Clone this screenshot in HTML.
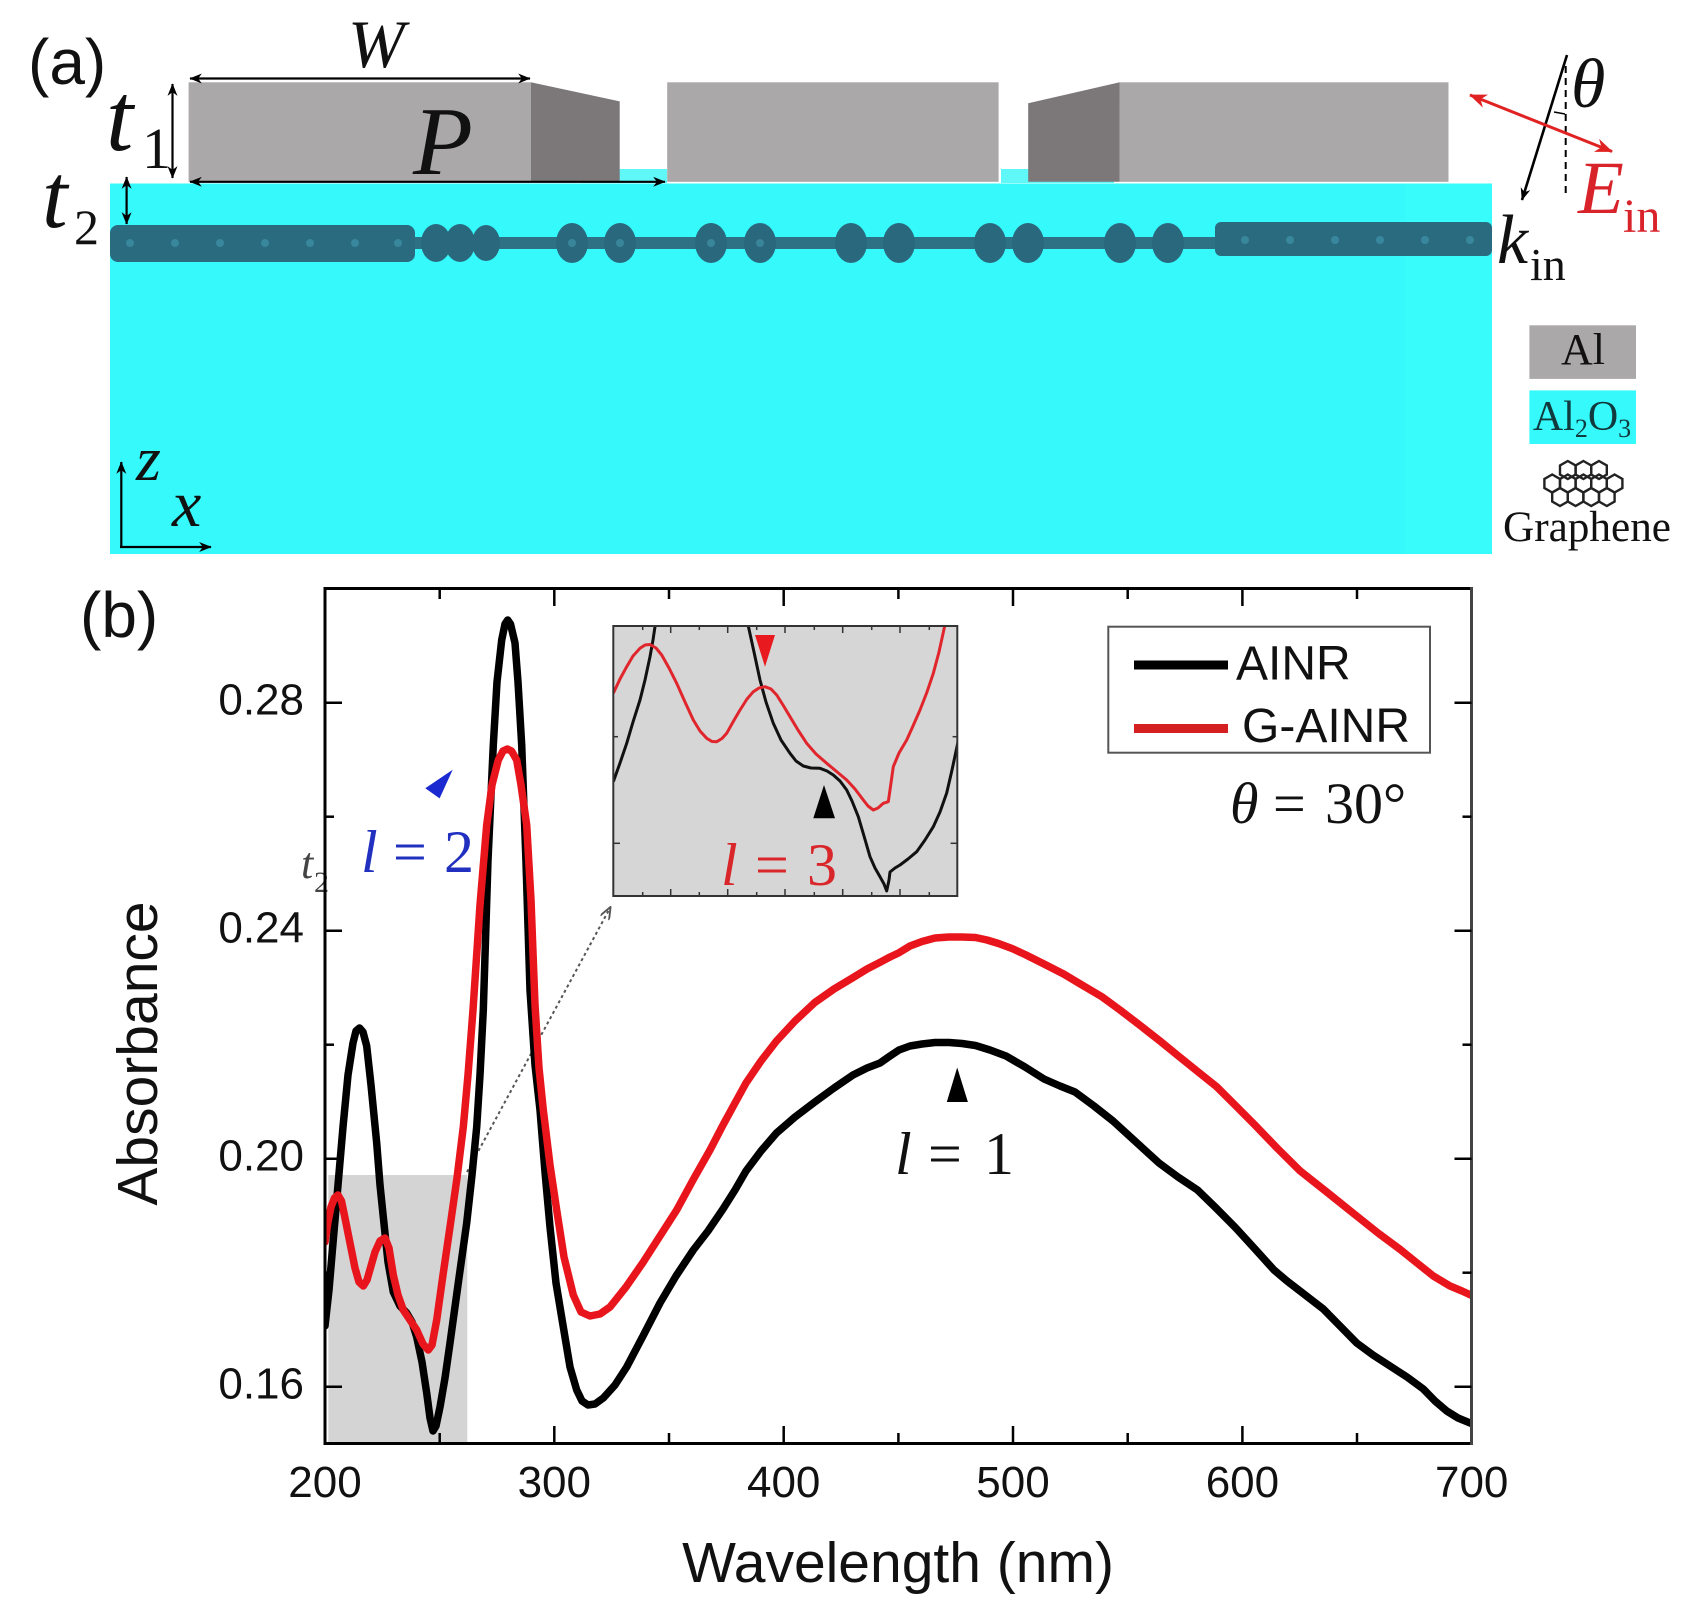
<!DOCTYPE html>
<html><head><meta charset="utf-8"><style>
html,body{margin:0;padding:0;background:#fff;}
svg{display:block;}
.sans{font-family:"Liberation Sans",Arial,sans-serif;}
.serif{font-family:"Liberation Serif","Times New Roman",serif;}
</style></head><body>
<svg width="1690" height="1616" viewBox="0 0 1690 1616" xmlns="http://www.w3.org/2000/svg">
<defs>
<marker id="ah" viewBox="0 0 10 8" refX="9.5" refY="4" markerWidth="14" markerHeight="10" markerUnits="userSpaceOnUse" orient="auto-start-reverse"><path d="M0,0 L10,4 L0,8 L3,4 z" fill="#000"/></marker>
<marker id="ahr" viewBox="0 0 10 8" refX="9.5" refY="4" markerWidth="20" markerHeight="14" markerUnits="userSpaceOnUse" orient="auto-start-reverse"><path d="M0,0 L10,4 L0,8 L3,4 z" fill="#e02222"/></marker>
<marker id="ahg" viewBox="0 0 10 8" refX="9" refY="4" markerWidth="14" markerHeight="10" markerUnits="userSpaceOnUse" orient="auto"><path d="M0,0 L10,4 L0,8" fill="none" stroke="#555" stroke-width="1.5"/></marker>
<clipPath id="plotclip"><rect x="325" y="588.5" width="1146.5" height="855"/></clipPath>
<clipPath id="insclip"><rect x="613.3" y="626" width="344" height="270"/></clipPath>
<polygon id="hex" points="0,-9 7.8,-4.5 7.8,4.5 0,9 -7.8,4.5 -7.8,-4.5" fill="none" stroke="#222" stroke-width="2.4"/>
</defs>
<rect width="1690" height="1616" fill="#fff"/>

<!-- ============ Panel (a) ============ -->
<rect x="110" y="183.5" width="1382" height="370.5" fill="#36f9fb"/>
<rect x="1405" y="183.5" width="87" height="370.5" fill="#3afbfb" opacity="0.6"/>
<!-- graphene band -->
<rect x="110" y="237" width="1382" height="12" fill="#2e7084"/>
<rect x="110" y="225" width="305" height="37" rx="8" fill="#2b6b80"/>
<rect x="1215" y="222" width="277" height="34" rx="6" fill="#2b6b80"/>
<g fill="#2a687d">
<ellipse cx="436" cy="243" rx="15" ry="19"/><ellipse cx="460" cy="243" rx="15" ry="19"/><ellipse cx="486" cy="243" rx="14" ry="18"/>
<ellipse cx="572" cy="243" rx="16" ry="20"/><ellipse cx="620" cy="243" rx="16" ry="20"/>
<ellipse cx="711" cy="243" rx="16" ry="20"/><ellipse cx="760" cy="243" rx="16" ry="20"/>
<ellipse cx="851" cy="243" rx="16" ry="20"/><ellipse cx="899" cy="243" rx="16" ry="20"/>
<ellipse cx="990" cy="243" rx="16" ry="20"/><ellipse cx="1028" cy="243" rx="16" ry="20"/>
<ellipse cx="1120" cy="243" rx="16" ry="20"/><ellipse cx="1168" cy="243" rx="16" ry="20"/>
</g>
<g fill="#3d8ea3" opacity="0.8">
<circle cx="130" cy="243" r="4"/><circle cx="175" cy="243" r="4"/><circle cx="220" cy="243" r="4"/><circle cx="265" cy="243" r="4"/><circle cx="310" cy="243" r="4"/><circle cx="355" cy="243" r="4"/><circle cx="398" cy="243" r="4"/>
<circle cx="572" cy="243" r="4"/><circle cx="620" cy="243" r="4"/><circle cx="711" cy="243" r="4"/><circle cx="760" cy="243" r="4"/>
<circle cx="1245" cy="240" r="4"/><circle cx="1290" cy="240" r="4"/><circle cx="1335" cy="240" r="4"/><circle cx="1380" cy="240" r="4"/><circle cx="1425" cy="240" r="4"/><circle cx="1470" cy="240" r="4"/>
</g>
<!-- cyan slivers between blocks -->
<rect x="582" y="169" width="85" height="14" fill="#5ff7f7"/>
<rect x="1001" y="169" width="113" height="14" fill="#5ff7f7"/>
<!-- Al blocks -->
<rect x="188.6" y="82.3" width="342.2" height="99.5" fill="#aaa8a9"/>
<polygon points="530.8,82.3 619.7,101.4 619.7,181.8 530.8,181.8" fill="#7c7778"/>
<rect x="667.2" y="82.3" width="331.4" height="99.5" fill="#aaa8a9"/>
<polygon points="1028.2,103.3 1119.8,82.3 1119.8,181.8 1028.2,181.8" fill="#7c7778"/>
<rect x="1119.8" y="82.3" width="328.7" height="99.5" fill="#aaa8a9"/>

<!-- dimension arrows -->
<g stroke="#000" stroke-width="2.2" fill="none">
<line x1="190" y1="78.5" x2="530" y2="78.5" marker-start="url(#ah)" marker-end="url(#ah)"/>
<line x1="190" y1="181.8" x2="665" y2="181.8" marker-start="url(#ah)" marker-end="url(#ah)"/>
<line x1="172.5" y1="84" x2="172.5" y2="178" marker-start="url(#ah)" marker-end="url(#ah)"/>
<line x1="126.6" y1="177" x2="126.6" y2="224" marker-start="url(#ah)" marker-end="url(#ah)"/>
<line x1="121.3" y1="548" x2="121.3" y2="462" marker-end="url(#ah)"/>
<line x1="120" y1="547" x2="211" y2="547" marker-end="url(#ah)"/>
</g>
<text x="28" y="84" class="sans" font-size="64" fill="#111">(a)</text>
<text x="348" y="67" class="serif" font-size="68" font-style="italic" fill="#111">W</text>
<text x="413" y="174" class="serif" font-size="98" font-style="italic" fill="#111">P</text>
<text x="106" y="150" class="serif" font-size="98" font-style="italic" fill="#111">t</text>
<text x="142" y="168" class="serif" font-size="58" fill="#111">1</text>
<text x="42" y="227" class="serif" font-size="92" font-style="italic" fill="#111">t</text>
<text x="74" y="244" class="serif" font-size="50" fill="#111">2</text>
<text x="136" y="480" class="serif" font-size="64" font-style="italic" fill="#111">z</text>
<text x="172" y="526" class="serif" font-size="66" font-style="italic" fill="#111">x</text>

<!-- incidence -->
<line x1="1565.7" y1="66" x2="1565.7" y2="194" stroke="#000" stroke-width="2" stroke-dasharray="7,5"/>
<line x1="1567" y1="55" x2="1522" y2="200" stroke="#000" stroke-width="2.6" marker-end="url(#ah)"/>
<path d="M1554,112 L1565,114" stroke="#000" stroke-width="1.5" fill="none"/>
<line x1="1470" y1="95" x2="1612" y2="151.5" stroke="#e02222" stroke-width="3" marker-start="url(#ahr)" marker-end="url(#ahr)"/>
<text x="1571" y="107" class="serif" font-size="70" font-style="italic" fill="#111">θ</text>
<text x="1578" y="213" class="serif" font-size="75" font-style="italic" fill="#d9232a">E</text>
<text x="1623" y="232" class="serif" font-size="48" fill="#d9232a">in</text>
<text x="1497" y="263" class="serif" font-size="70" font-style="italic" fill="#111">k</text>
<text x="1530" y="280" class="serif" font-size="46" fill="#111">in</text>

<!-- material legend -->
<rect x="1529.4" y="325.3" width="106.6" height="53.6" fill="#aaa8a9"/>
<text x="1583" y="364" text-anchor="middle" class="serif" font-size="44" fill="#111">Al</text>
<rect x="1529.4" y="390.4" width="106.6" height="53.6" fill="#36f9fb"/>
<text x="1582" y="430" text-anchor="middle" class="serif" font-size="42" fill="#103a3e">Al<tspan font-size="26" dy="7">2</tspan><tspan dy="-7">O</tspan><tspan font-size="26" dy="7">3</tspan></text>
<g>
<use href="#hex" x="1567.8" y="470"/><use href="#hex" x="1583.4" y="470"/><use href="#hex" x="1599" y="470"/>
<use href="#hex" x="1552.2" y="483.5"/><use href="#hex" x="1567.8" y="483.5"/><use href="#hex" x="1583.4" y="483.5"/><use href="#hex" x="1599" y="483.5"/><use href="#hex" x="1614.6" y="483.5"/>
<use href="#hex" x="1560" y="497"/><use href="#hex" x="1575.6" y="497"/><use href="#hex" x="1591.2" y="497"/><use href="#hex" x="1606.8" y="497"/>
</g>
<text x="1587" y="541" text-anchor="middle" class="serif" font-size="43" fill="#111" textLength="168" lengthAdjust="spacingAndGlyphs">Graphene</text>

<!-- ============ Panel (b) ============ -->
<text x="80" y="637" class="sans" font-size="64" fill="#111">(b)</text>

<!-- gray highlight -->
<rect x="328.3" y="1175" width="139" height="268" fill="#d4d4d4"/>
<line x1="467" y1="1172" x2="610" y2="908" stroke="#555" stroke-width="2" stroke-dasharray="3,3" marker-end="url(#ahg)"/>

<g clip-path="url(#plotclip)" fill="none" stroke-linejoin="round" stroke-linecap="round">
<polyline stroke="#000" stroke-width="7.5" points="325,1326 329,1290 333,1243 338,1185 343,1127 348,1075 353,1043 356,1031 359.5,1028 363,1032 366.7,1046 371,1085 376.7,1143 380,1185 383.3,1217 388,1262 393.3,1292 400,1306 406.7,1313 412,1322 416.7,1337 422,1362 426.7,1393 430,1418 433,1431 436,1426 440,1407 445,1378 450,1343 458,1285 466.7,1223 472,1175 476.7,1127 480,1075 483.3,1010 488,860 493.3,745 497,682 501.7,640 505,624 507.7,620 510.5,624 515,643 518,682 521.7,745 526,862 530,990 535,1065 540,1110 545,1172 550,1227 556,1283 563.3,1327 570,1367 576.7,1390 582,1401 588,1405 595,1404 603.3,1398 615,1385 626.7,1367 643,1336 660,1303 676,1276 693.3,1250 708,1231 723,1209 735,1190 746,1171 761,1151 776.5,1133 795,1117 814.8,1102 834,1088 853,1075 867,1068 880,1063 890,1056 899,1050 910,1046 922,1044 935,1042.5 949,1042.5 962,1043.5 975.5,1045.5 990,1050 1006,1056 1025,1067 1044,1079 1060,1086 1075,1092 1094,1106 1113,1121 1136,1142 1159,1163 1178,1177 1197.5,1190 1216,1208 1235.8,1228 1255,1249 1274,1270 1287,1281 1300,1291 1323.3,1309 1340,1326 1356.7,1343 1373,1355 1390,1366 1407,1377 1423.3,1389 1435,1401 1446.7,1411 1458,1418 1475,1425"/>
<polyline stroke="#e8161c" stroke-width="7.5" points="325,1242 328,1222 331,1207 334.5,1198 338,1195 341.5,1201 345,1218 350,1243 355,1268 359,1282 363.3,1286 367,1280 371,1266 375,1252 380,1241 385,1238 389,1248 393.3,1275 398,1295 403.3,1310 410,1320 416.7,1330 423,1344 428.3,1350 432,1345 436.7,1320 443,1275 450,1227 457,1178 463.3,1127 468,1075 473,1010 480,905 486.7,825 492,785 498.3,760 503,751 507.3,749 511.5,751 516.7,760 521,785 526.7,825 531,900 535,1005 539,1068 543.3,1110 550,1165 556.7,1210 564,1257 573.3,1295 581,1312 590,1316 600,1314 610,1307 626,1287 643.3,1262 660,1236 676.7,1210 693,1180 710,1150 723,1125 735,1103 746,1083 761,1061 776.5,1041 795,1021 814.8,1002.5 834,989 853,977.6 867,969 880,962.3 890,957 899,952.7 910,946 922,941.5 935,938 949,937 962,937 975.5,937.5 987,940 998.5,943.5 1012,948.5 1025.3,954.6 1044,964 1063.6,974 1082,985 1101.8,996.7 1120,1010 1140.1,1025.4 1160,1041 1178.4,1056 1197,1071 1216.6,1086.7 1235,1105 1254.9,1125 1277,1148 1300,1170.8 1328,1193 1356.7,1216 1378,1233 1400,1249.3 1417,1263 1433.3,1276 1450,1286 1462,1291 1475,1297"/>
</g>

<!-- inset -->
<rect x="613.3" y="626" width="344" height="270" fill="#d6d6d6"/>
<g clip-path="url(#insclip)" fill="none" stroke-linejoin="round" stroke-width="3">
<polyline stroke="#111" points="613.3,781.7 620,763 626.7,743.3 633,722 640,700 645,680 650,656.7 653,640 656,620"/>
<polyline stroke="#111" points="747,620 748.3,626 754,652 760,680 766,702 773.3,723.3 781,740 790,753.3 796,761 803.3,766 811,768 820,768.3 827,771 833.3,775 840,781 846.7,790 852,801 858.3,816.7 864,836 870,856.7 875,868 880,876.7 884,884 886.7,891 889,880 890,872 895,868 900,865 908,859 916.7,851.7 925,840 933.3,826.7 940,812 946.7,793 952,770 958,742"/>
<polyline stroke="#e0262c" points="613.3,693.3 620,679 626.7,666.7 633,656 640,648.3 645,645 650,644.5 656,648 661.7,655 669,668 676.7,683.3 685,702 693.3,720 700,731 706.7,738.3 712,741.5 716.7,741.7 722,738.5 726.7,733.3 733,722 740,710 747,699 753.3,691.7 759,688 765,686.7 771,689 776.7,695 783,705 790,716.7 798,730 806.7,743.3 816,754 826.7,763.3 836,771 846.7,780 855,789 863.3,800 868,806 873.3,810 878,808 883.3,803.3 888.3,801.7 890,790 893.3,766.7 899,753 906.7,740 913,726 920,710 927,692 933.3,673.3 939,652 946,620"/>
</g>
<g stroke="#333" stroke-width="1.5">
<line x1="642.7" y1="626" x2="642.7" y2="630"/><line x1="670.7" y1="626" x2="670.7" y2="633"/><line x1="699.3" y1="626" x2="699.3" y2="630"/><line x1="727.7" y1="626" x2="727.7" y2="633"/><line x1="756.7" y1="626" x2="756.7" y2="630"/><line x1="785" y1="626" x2="785" y2="633"/><line x1="814.3" y1="626" x2="814.3" y2="630"/><line x1="842.7" y1="626" x2="842.7" y2="633"/><line x1="871.7" y1="626" x2="871.7" y2="630"/><line x1="900" y1="626" x2="900" y2="633"/><line x1="929.3" y1="626" x2="929.3" y2="630"/>
<line x1="642.7" y1="896" x2="642.7" y2="892"/><line x1="670.7" y1="896" x2="670.7" y2="889"/><line x1="699.3" y1="896" x2="699.3" y2="892"/><line x1="727.7" y1="896" x2="727.7" y2="889"/><line x1="756.7" y1="896" x2="756.7" y2="892"/><line x1="785" y1="896" x2="785" y2="889"/><line x1="814.3" y1="896" x2="814.3" y2="892"/><line x1="842.7" y1="896" x2="842.7" y2="889"/><line x1="871.7" y1="896" x2="871.7" y2="892"/><line x1="900" y1="896" x2="900" y2="889"/><line x1="929.3" y1="896" x2="929.3" y2="892"/>
<line x1="613.3" y1="736.7" x2="618" y2="736.7"/><line x1="613.3" y1="843.3" x2="620" y2="843.3"/>
<line x1="957.3" y1="736.7" x2="952.6" y2="736.7"/><line x1="957.3" y1="843.3" x2="950.6" y2="843.3"/>
</g>
<rect x="613.3" y="626" width="344" height="270" fill="none" stroke="#333" stroke-width="2"/>
<polygon points="755,635 775,635 765,666.7" fill="#e81a1f"/>
<polygon points="813.3,818.3 835,818.3 824,785" fill="#000"/>
<text x="721" y="885" class="serif" font-size="60" font-style="italic" fill="#d9262b">l</text>
<text x="755" y="885" class="serif" font-size="60" fill="#d9262b">=</text>
<text x="807" y="885" class="serif" font-size="60" fill="#d9262b">3</text>

<!-- annotations -->
<polygon points="425.3,788.2 452.7,769.8 439.6,798.4" fill="#1a2ad0"/>
<text x="361" y="872" class="serif" font-size="60" font-style="italic" fill="#2230c0">l</text>
<text x="393" y="872" class="serif" font-size="60" fill="#2230c0">=</text>
<text x="444" y="872" class="serif" font-size="60" fill="#2230c0">2</text>
<text x="301" y="878" class="serif" font-size="44" font-style="italic" fill="#444">t</text>
<text x="314" y="892" class="serif" font-size="30" fill="#444">2</text>

<polygon points="946.8,1102 967.9,1102 957.2,1067.5" fill="#000"/>
<text x="895" y="1174" class="serif" font-size="60" font-style="italic" fill="#111">l</text>
<text x="928" y="1174" class="serif" font-size="60" fill="#111">=</text>
<text x="984" y="1174" class="serif" font-size="60" fill="#111">1</text>

<!-- legend -->
<rect x="1108.3" y="626.7" width="321.7" height="126" fill="#fff" stroke="#555" stroke-width="2"/>
<line x1="1134" y1="665" x2="1228" y2="665" stroke="#000" stroke-width="9"/>
<line x1="1134" y1="728.5" x2="1228" y2="728.5" stroke="#d42020" stroke-width="9"/>
<text x="1236" y="679.5" class="sans" font-size="48" fill="#111">AINR</text>
<text x="1242" y="742" class="sans" font-size="48" fill="#111">G-AINR</text>
<text x="1230" y="823" class="serif" font-size="58" font-style="italic" fill="#111">θ</text>
<text x="1273" y="823" class="serif" font-size="58" fill="#111">=</text>
<text x="1325" y="823" class="serif" font-size="58" fill="#111">30°</text>

<!-- axes frame and ticks -->
<g stroke="#000" stroke-width="3" fill="none">
<line x1="325" y1="588.5" x2="1471.5" y2="588.5"/>
<line x1="325" y1="587" x2="325" y2="1445"/>
<line x1="323.5" y1="1443.5" x2="1473" y2="1443.5"/>
<line x1="1471.5" y1="587" x2="1471.5" y2="1445" stroke="#444"/>
</g>
<g stroke="#000" stroke-width="2.5">
<line x1="439.7" y1="1443.5" x2="439.7" y2="1433"/><line x1="554.3" y1="1443.5" x2="554.3" y2="1426"/><line x1="669" y1="1443.5" x2="669" y2="1433"/><line x1="783.7" y1="1443.5" x2="783.7" y2="1426"/><line x1="898.4" y1="1443.5" x2="898.4" y2="1433"/><line x1="1013" y1="1443.5" x2="1013" y2="1426"/><line x1="1127.7" y1="1443.5" x2="1127.7" y2="1433"/><line x1="1242.4" y1="1443.5" x2="1242.4" y2="1426"/><line x1="1357" y1="1443.5" x2="1357" y2="1433"/>
<line x1="439.7" y1="588.5" x2="439.7" y2="599"/><line x1="554.3" y1="588.5" x2="554.3" y2="606"/><line x1="669" y1="588.5" x2="669" y2="599"/><line x1="783.7" y1="588.5" x2="783.7" y2="606"/><line x1="898.4" y1="588.5" x2="898.4" y2="599"/><line x1="1013" y1="588.5" x2="1013" y2="606"/><line x1="1127.7" y1="588.5" x2="1127.7" y2="599"/><line x1="1242.4" y1="588.5" x2="1242.4" y2="606"/><line x1="1357" y1="588.5" x2="1357" y2="599"/>
<line x1="325" y1="1386.7" x2="342" y2="1386.7"/><line x1="325" y1="1272.7" x2="334" y2="1272.7"/><line x1="325" y1="1158.7" x2="342" y2="1158.7"/><line x1="325" y1="1044.7" x2="334" y2="1044.7"/><line x1="325" y1="930.7" x2="342" y2="930.7"/><line x1="325" y1="816.7" x2="334" y2="816.7"/><line x1="325" y1="702.7" x2="342" y2="702.7"/>
<line x1="1471.5" y1="1386.7" x2="1454.5" y2="1386.7"/><line x1="1471.5" y1="1272.7" x2="1462.5" y2="1272.7"/><line x1="1471.5" y1="1158.7" x2="1454.5" y2="1158.7"/><line x1="1471.5" y1="1044.7" x2="1462.5" y2="1044.7"/><line x1="1471.5" y1="930.7" x2="1454.5" y2="930.7"/><line x1="1471.5" y1="816.7" x2="1462.5" y2="816.7"/><line x1="1471.5" y1="702.7" x2="1454.5" y2="702.7"/>
</g>

<g class="sans" font-size="44" fill="#111" text-anchor="middle">
<text x="325" y="1497">200</text><text x="554.3" y="1497">300</text><text x="783.7" y="1497">400</text><text x="1013" y="1497">500</text><text x="1242.4" y="1497">600</text><text x="1471.7" y="1497">700</text>
</g>
<g class="sans" font-size="44" fill="#111" text-anchor="end">
<text x="304" y="1398.5">0.16</text><text x="304" y="1170.5">0.20</text><text x="304" y="942.5">0.24</text><text x="304" y="714.5">0.28</text>
</g>
<text x="898" y="1582" text-anchor="middle" class="sans" font-size="57" fill="#111">Wavelength (nm)</text>
<text transform="translate(157,1053.5) rotate(-90)" text-anchor="middle" class="sans" font-size="57" fill="#111">Absorbance</text>
</svg>
</body></html>
